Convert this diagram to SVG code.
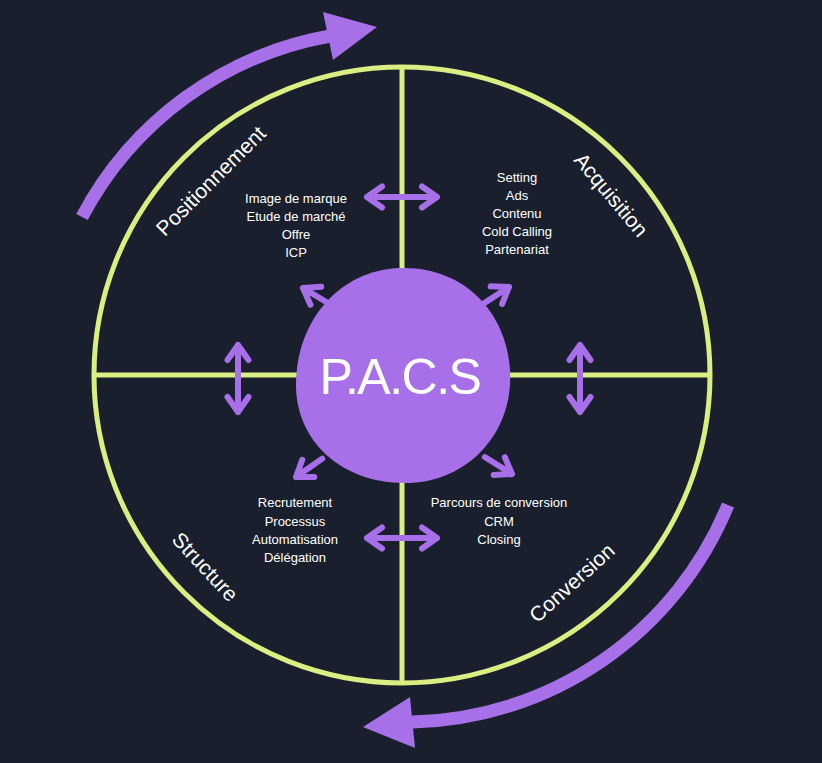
<svg xmlns="http://www.w3.org/2000/svg" xmlns:xlink="http://www.w3.org/1999/xlink" width="822" height="763" viewBox="0 0 822 763">
<style>
.ring{fill:none;stroke:#dbee82;stroke-width:5}
.arr{fill:none;stroke:#a870e8;stroke-width:6;stroke-linecap:round;stroke-linejoin:round}
.big{fill:none;stroke:#a870e8;stroke-width:13}
.head{fill:#a870e8}
.lbl{font-family:"Liberation Sans",Arial,sans-serif;font-size:21px;fill:#ffffff;text-anchor:middle}
.lst{font-family:"Liberation Sans",Arial,sans-serif;font-size:13px;fill:#ffffff;text-anchor:middle}
.title{font-family:"Liberation Sans",Arial,sans-serif;font-size:50px;letter-spacing:-1.5px;fill:#ffffff;text-anchor:middle}
</style>
<defs>
<path id="dArr" class="arr" d="M-32,0H0M-15,-10.5L0,0L-15,10.5"/>
</defs>
<rect width="822" height="763" fill="#1a1f2e"/>
<g id="ring">
<circle class="ring" cx="402" cy="375" r="308"/>
<line class="ring" x1="402" y1="67" x2="402" y2="683"/>
<line class="ring" x1="94" y1="375" x2="710" y2="375"/>
</g>
<g id="cycle-arrows">
<path class="big" d="M82,217 A350,350 0 0 1 330,36"/>
<polygon class="head" points="323,12 377,27 333,60"/>
<path class="big" d="M728,505 A350,350 0 0 1 412,722"/>
<polygon class="head" points="410,697 363,727 415,748"/>
</g>
<g id="connectors">
<use xlink:href="#dArr" transform="translate(303,288) rotate(211)"/>
<use xlink:href="#dArr" transform="translate(509,287) rotate(-33)"/>
<use xlink:href="#dArr" transform="translate(296,477) rotate(145)"/>
<use xlink:href="#dArr" transform="translate(512,474) rotate(32)"/>
<path class="arr" d="M367,197H437M382,186.5L367,197L382,207.5M422,186.5L437,197L422,207.5"/>
<path class="arr" d="M367,538H437M382,527.5L367,538L382,548.5M422,527.5L437,538L422,548.5"/>
<path class="arr" d="M238,345V412M227.5,360L238,345L248.5,360M227.5,397L238,412L248.5,397"/>
<path class="arr" d="M580,345V412M569.5,360L580,345L590.5,360M569.5,397L580,412L590.5,397"/>
</g>
<g id="pacs">
<path fill="#a870e8" d="M400,268 C462,266 506,310 510,370 C514,432 468,483 405,483 C340,483 296,440 296,385 C296,320 340,270 400,268 Z"/>
<text class="title" x="400" y="394">P.A.C.S</text>
</g>
<g id="positionnement">
<text class="lbl" transform="translate(211,181) rotate(-45)" y="7">Positionnement</text>
<text class="lst" x="296" y="203">Image de marque</text>
<text class="lst" x="296" y="221">Etude de marché</text>
<text class="lst" x="296" y="239">Offre</text>
<text class="lst" x="296" y="257">ICP</text>
</g>
<g id="acquisition">
<text class="lbl" transform="translate(611,195) rotate(50)" y="7">Acquisition</text>
<text class="lst" x="517" y="182">Setting</text>
<text class="lst" x="517" y="200">Ads</text>
<text class="lst" x="517" y="218">Contenu</text>
<text class="lst" x="517" y="236">Cold Calling</text>
<text class="lst" x="517" y="254">Partenariat</text>
</g>
<g id="structure">
<text class="lbl" transform="translate(205,567) rotate(47)" y="7">Structure</text>
<text class="lst" x="295" y="507">Recrutement</text>
<text class="lst" x="295" y="525.5">Processus</text>
<text class="lst" x="295" y="544">Automatisation</text>
<text class="lst" x="295" y="562">Délégation</text>
</g>
<g id="conversion">
<text class="lbl" transform="translate(572,583) rotate(-42)" y="7">Conversion</text>
<text class="lst" x="499" y="507">Parcours de conversion</text>
<text class="lst" x="499" y="526">CRM</text>
<text class="lst" x="499" y="544">Closing</text>
</g>
</svg>
